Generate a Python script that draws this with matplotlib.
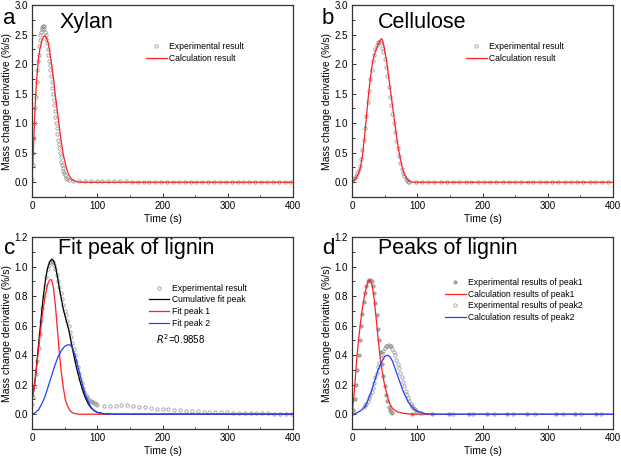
import numpy as np
import matplotlib
matplotlib.use("Agg")
import matplotlib.pyplot as plt
from matplotlib.ticker import MultipleLocator

plt.rcParams['font.family'] = ['Liberation Sans', 'DejaVu Sans']

# ---- panel a: xylan ----
xyl_exp_t = [0, 1, 2, 3, 4, 5, 6, 7, 8, 9, 10, 11, 12, 13, 14, 15, 16, 17, 18, 19, 20,
             21, 22, 23, 24, 25, 26, 27, 28, 29, 30, 31, 32, 33, 34, 35, 36, 37, 38, 39,
             40, 41, 42, 43, 44, 45, 46, 47, 48, 49, 50, 52, 54, 56,
             63, 72, 81, 90, 99, 108, 117, 126, 135, 144, 153, 162, 171, 180, 189, 198,
             207, 216, 225, 234, 243, 252, 261, 270, 279, 288, 297, 306, 315, 324, 333,
             342, 351, 360, 369, 378, 387, 396]
xyl_exp_y = [0.05, 0.3, 0.5, 0.75, 1.0, 1.25, 1.45, 1.7, 1.9, 2.05, 2.15, 2.3, 2.4, 2.5,
             2.55, 2.6, 2.62, 2.65, 2.65, 2.6, 2.55, 2.5, 2.42, 2.35, 2.25, 2.15, 2.05,
             1.98, 1.9, 1.8, 1.7, 1.6, 1.5, 1.4, 1.3, 1.2, 1.1, 1.0, 0.92, 0.82, 0.72,
             0.65, 0.58, 0.5, 0.42, 0.35, 0.29, 0.24, 0.19, 0.15, 0.12, 0.08, 0.05, 0.03,
             0.02, 0.02, 0.02, 0.02, 0.02, 0.02, 0.02, 0.015, 0.015, 0.015, 0.01, 0.01,
             0.01, 0.01, 0.01, 0.01, 0.01, 0.01, 0.01, 0.01, 0.01, 0.01, 0.01, 0.01, 0.01,
             0.01, 0.01, 0.01, 0.01, 0.01, 0.01, 0.01, 0.01, 0.01, 0.01, 0.01, 0.01, 0.01]
xyl_calc_t = [0, 2, 4, 6, 8, 10, 12, 15, 18, 20, 22, 25, 28, 30, 33, 36, 40, 44, 48, 52,
              56, 60, 65, 70, 80, 400]
xyl_calc_y = [0.0, 0.5, 1.1, 1.55, 1.85, 2.1, 2.25, 2.4, 2.47, 2.48, 2.45, 2.35, 2.15,
              2.0, 1.75, 1.45, 1.1, 0.75, 0.47, 0.27, 0.13, 0.06, 0.02, 0.005, 0.0, 0.0]

# ---- panel b: cellulose ----
cel_exp_t = [0, 2, 4, 6, 8, 10, 12, 14, 16, 18, 20, 22, 24, 26, 28, 30, 32, 34, 36, 38,
             40, 42, 44, 46, 48, 50, 52, 54, 56, 58, 60, 62, 64, 66, 68, 70, 72, 74, 76,
             78, 80, 82, 84, 86, 88,
             98, 107, 117, 126, 136, 145, 155, 164, 174, 183, 193, 202, 212, 221, 231,
             240, 250, 259, 269, 278, 288, 297, 307, 316, 326, 335, 345, 354, 364, 373,
             383, 392]
cel_exp_y = [0.02, 0.05, 0.08, 0.11, 0.15, 0.2, 0.28, 0.4, 0.55, 0.72, 0.92, 1.12, 1.35,
             1.55, 1.75, 1.9, 2.05, 2.15, 2.25, 2.32, 2.37, 2.38, 2.35, 2.28, 2.2, 2.08,
             1.95, 1.8, 1.62, 1.45, 1.3, 1.15, 1.0, 0.85, 0.7, 0.58, 0.45, 0.33, 0.23,
             0.15, 0.1, 0.06, 0.03, 0.01, 0.0,
             0.01, 0.01, 0.01, 0.01, 0.01, 0.01, 0.01, 0.01, 0.01, 0.01, 0.01, 0.01, 0.01,
             0.01, 0.01, 0.01, 0.01, 0.01, 0.01, 0.01, 0.01, 0.01, 0.01, 0.01, 0.01, 0.01,
             0.01, 0.01, 0.01, 0.01, 0.01, 0.01]
cel_calc_t = [0, 5, 10, 13, 16, 19, 22, 25, 28, 31, 34, 37, 40, 43, 45, 47, 50, 53, 56,
              59, 62, 65, 68, 71, 74, 77, 80, 84, 88, 92, 400]
cel_calc_y = [0.0, 0.05, 0.15, 0.25, 0.45, 0.75, 1.1, 1.45, 1.75, 2.0, 2.15, 2.25, 2.33,
              2.4, 2.43, 2.4, 2.25, 2.05, 1.8, 1.55, 1.3, 1.05, 0.8, 0.58, 0.4, 0.25,
              0.14, 0.06, 0.02, 0.0, 0.0]

# ---- panel c: fit peaks of lignin ----
lig_exp_t = [0, 2, 4, 6, 8, 10, 12, 14, 16, 18, 20, 22, 24, 26, 28, 30, 32, 34, 36, 38,
             40, 42, 44, 46, 48, 50, 52, 54, 56, 58, 60, 62, 64, 66, 68, 70, 72, 74, 76,
             78, 80, 82, 84, 86, 88, 90, 92, 94, 96, 98, 100,
             110, 119, 128, 137, 146, 155, 164, 173, 182, 191, 200, 209, 218, 227, 236,
             245, 254, 263, 272, 281, 290, 299, 308, 317, 326, 335, 344, 353, 362, 371,
             380, 389, 398]
lig_exp_y = [0.07, 0.12, 0.19, 0.27, 0.36, 0.45, 0.54, 0.63, 0.72, 0.8, 0.87, 0.93, 0.98,
             1.01, 1.03, 1.04, 1.03, 1.01, 0.98, 0.94, 0.9, 0.86, 0.82, 0.78, 0.74, 0.7,
             0.67, 0.63, 0.6, 0.56, 0.52, 0.48, 0.44, 0.4, 0.36, 0.32, 0.28, 0.24, 0.21,
             0.18, 0.15, 0.13, 0.115, 0.105, 0.095, 0.09, 0.085, 0.08, 0.075, 0.07, 0.065,
             0.058, 0.058, 0.058, 0.062, 0.064, 0.058, 0.052, 0.047, 0.042, 0.037, 0.035,
             0.033, 0.03, 0.027, 0.025, 0.022, 0.02, 0.018, 0.017, 0.015, 0.013, 0.012,
             0.011, 0.01, 0.009, 0.008, 0.007, 0.006, 0.005, 0.004, 0.003, 0.002, 0.001]
lig_cum_t = [0, 3, 6, 9, 12, 15, 18, 21, 24, 27, 30, 33, 36, 39, 42, 45, 48, 51, 54, 57,
             60, 63, 66, 69, 72, 75, 78, 81, 84, 87, 90, 95, 100, 110, 120, 400]
lig_cum_y = [0.1, 0.17, 0.28, 0.42, 0.56, 0.7, 0.82, 0.92, 0.99, 1.03, 1.05, 1.04, 1.0,
             0.93, 0.85, 0.78, 0.71, 0.66, 0.61, 0.56, 0.49, 0.42, 0.36, 0.3, 0.25, 0.2,
             0.16, 0.12, 0.09, 0.065, 0.045, 0.025, 0.013, 0.003, 0.0, 0.0]
lig_fit1_t = [0, 4, 8, 12, 16, 20, 24, 27, 30, 33, 36, 39, 42, 45, 48, 51, 54, 58, 62, 68,
              75, 400]
lig_fit1_y = [0.08, 0.2, 0.36, 0.52, 0.68, 0.8, 0.88, 0.91, 0.91, 0.85, 0.73, 0.57, 0.41,
              0.28, 0.18, 0.1, 0.06, 0.025, 0.01, 0.002, 0.0, 0.0]
lig_fit2_t = [0, 5, 10, 15, 20, 25, 30, 35, 40, 45, 50, 55, 58, 62, 66, 70, 74, 78, 82,
              86, 90, 95, 100, 110, 120, 400]
lig_fit2_y = [0.0, 0.01, 0.03, 0.07, 0.12, 0.19, 0.26, 0.33, 0.39, 0.43, 0.46, 0.47, 0.47,
              0.45, 0.4, 0.33, 0.26, 0.19, 0.13, 0.09, 0.05, 0.025, 0.012, 0.003, 0.0, 0.0]
r2_text = "$R^2$=0.9858"

# ---- panel d: separated peaks of lignin ----
p1_exp_t = [0, 2, 4, 6, 8, 10, 12, 14, 16, 18, 20, 22, 24, 26, 28, 30, 32, 34, 36, 38,
            40, 42, 44, 46, 48, 50, 52, 54, 56, 58, 60, 62,
            92, 123, 148, 179, 207, 237, 268, 312, 341, 374]
p1_exp_y = [0.0, 0.03, 0.1, 0.2, 0.3, 0.4, 0.5, 0.6, 0.68, 0.76, 0.82, 0.87, 0.9, 0.91,
            0.91, 0.9, 0.87, 0.82, 0.75, 0.67, 0.58, 0.5, 0.42, 0.34, 0.26, 0.19, 0.13,
            0.09, 0.05, 0.03, 0.015, 0.005,
            0.0, 0.0, 0.0, 0.0, 0.0, 0.0, 0.0, 0.0, 0.0, 0.0]
p1_calc_t = [0, 2, 4, 6, 8, 10, 13, 16, 19, 22, 25, 28, 31, 34, 37, 40, 43, 46, 49, 52,
             55, 58, 62, 66, 70, 80, 90, 100, 400]
p1_calc_y = [0.0, 0.08, 0.18, 0.3, 0.41, 0.5, 0.62, 0.72, 0.8, 0.86, 0.9, 0.91, 0.87,
             0.78, 0.65, 0.51, 0.39, 0.3, 0.22, 0.16, 0.11, 0.07, 0.04, 0.025, 0.015,
             0.005, 0.001, 0.0, 0.0]
p2_exp_t = [18, 20, 22, 24, 26, 28, 30, 32, 34, 36, 38, 40, 42, 44, 46, 48, 50, 52, 54,
            56, 58, 60, 62, 64, 66, 68, 70, 72, 74, 76, 78, 80, 82, 84, 86, 88, 90, 92,
            94, 96, 98, 100, 104, 108,
            155, 185, 217, 247, 281, 323, 351, 381]
p2_exp_y = [0.05, 0.06, 0.07, 0.09, 0.11, 0.13, 0.15, 0.18, 0.21, 0.25, 0.28, 0.32, 0.35,
            0.38, 0.41, 0.43, 0.45, 0.46, 0.465, 0.47, 0.465, 0.46, 0.44, 0.42, 0.4, 0.37,
            0.34, 0.31, 0.28, 0.25, 0.22, 0.19, 0.16, 0.13, 0.11, 0.09, 0.07, 0.055,
            0.045, 0.035, 0.025, 0.018, 0.01, 0.005,
            0.0, 0.0, 0.0, 0.0, 0.0, 0.0, 0.0, 0.0]
p2_calc_t = [0, 5, 10, 15, 20, 25, 30, 35, 40, 45, 50, 54, 58, 62, 66, 70, 74, 78, 82, 86,
             90, 95, 100, 110, 120, 130, 400]
p2_calc_y = [0.0, 0.005, 0.015, 0.03, 0.05, 0.1, 0.16, 0.23, 0.3, 0.35, 0.39, 0.4, 0.39,
             0.36, 0.31, 0.26, 0.21, 0.16, 0.12, 0.085, 0.06, 0.035, 0.02, 0.005, 0.001,
             0.0, 0.0]

GREY = '#8a8a8a'
RED = '#ff2020'
BLUE = '#2040ff'

W, H = 621, 461
fig = plt.figure(figsize=(6.21, 4.61), dpi=100)


def make_axes(left, top, ymin, ymax, ymaj):
    ax = fig.add_axes([left / W, (H - top - 192) / H, 261 / W, 192 / H])
    ax.set_xlim(0, 400)
    ax.set_ylim(ymin, ymax)
    ax.xaxis.set_major_locator(MultipleLocator(100))
    ax.xaxis.set_minor_locator(MultipleLocator(50))
    ax.yaxis.set_major_locator(MultipleLocator(ymaj))
    ax.yaxis.set_minor_locator(MultipleLocator(ymaj / 2))
    ax.tick_params(which='both', direction='in', labelsize=7, width=0.7, color='#333333')
    ax.tick_params(which='major', length=3, pad=3)
    ax.tick_params(which='minor', length=1.8)
    for s in ax.spines.values():
        s.set_linewidth(0.9)
        s.set_color('#333333')
    ax.set_xlabel('Time (s)', fontsize=7.5, labelpad=2)
    ax.set_ylabel('Mass change derivative (%/s)', fontsize=7.5, labelpad=2)
    return ax


def exp_marks(ax, t, y, label, filled=False):
    ax.plot(t, y, linestyle='none', marker='o', markersize=2.4,
            markerfacecolor='#b0b0b0' if filled else 'none',
            markeredgecolor=GREY, markeredgewidth=0.5, label=label)


def add_legend(ax, x, y):
    ax.legend(loc='upper left', bbox_to_anchor=(x, y), frameon=False, fontsize=6.2,
              borderpad=0, handlelength=2.4, handletextpad=0.3, labelspacing=0.32)


axa = make_axes(32, 5, -0.25, 3.0, 0.5)
exp_marks(axa, xyl_exp_t, xyl_exp_y, 'Experimental result')
axa.plot(xyl_calc_t, xyl_calc_y, color=RED, lw=0.9, label='Calculation result')
add_legend(axa, 0.42, 0.83)
axa.text(0.105, 0.91, 'Xylan', transform=axa.transAxes, fontsize=15.5, va='center')

axb = make_axes(352, 5, -0.25, 3.0, 0.5)
exp_marks(axb, cel_exp_t, cel_exp_y, 'Experimental result')
axb.plot(cel_calc_t, cel_calc_y, color=RED, lw=0.9, label='Calculation result')
add_legend(axb, 0.42, 0.83)
axb.text(0.1, 0.91, 'Cellulose', transform=axb.transAxes, fontsize=15.5, va='center')

axc = make_axes(32, 237, -0.1, 1.2, 0.2)
exp_marks(axc, lig_exp_t, lig_exp_y, 'Experimental result')
axc.plot(lig_cum_t, lig_cum_y, color='black', lw=0.9, label='Cumulative fit peak')
axc.plot(lig_fit1_t, lig_fit1_y, color=RED, lw=0.9, label='Fit peak 1')
axc.plot(lig_fit2_t, lig_fit2_y, color=BLUE, lw=0.9, label='Fit peak 2')
add_legend(axc, 0.43, 0.78)
axc.text(0.1, 0.94, 'Fit peak of lignin', transform=axc.transAxes, fontsize=15.5,
         va='center')
axc.text(190, 0.51, r2_text, fontsize=7, va='center')

axd = make_axes(352, 237, -0.1, 1.2, 0.2)
exp_marks(axd, p1_exp_t, p1_exp_y, 'Experimental results of peak1', filled=True)
axd.plot(p1_calc_t, p1_calc_y, color=RED, lw=0.9, label='Calculation results of peak1')
exp_marks(axd, p2_exp_t, p2_exp_y, 'Experimental results of peak2')
axd.plot(p2_calc_t, p2_calc_y, color=BLUE, lw=0.9, label='Calculation results of peak2')
add_legend(axd, 0.34, 0.81)
axd.text(0.1, 0.94, 'Peaks of lignin', transform=axd.transAxes, fontsize=15.5,
         va='center')

for letter, px, py in [('a', 3, 19), ('b', 322, 19), ('c', 4, 248), ('d', 322, 248)]:
    fig.text(px / W, 1 - py / H, letter, fontsize=16, va='center')

fig.savefig('out.png', dpi=100)
